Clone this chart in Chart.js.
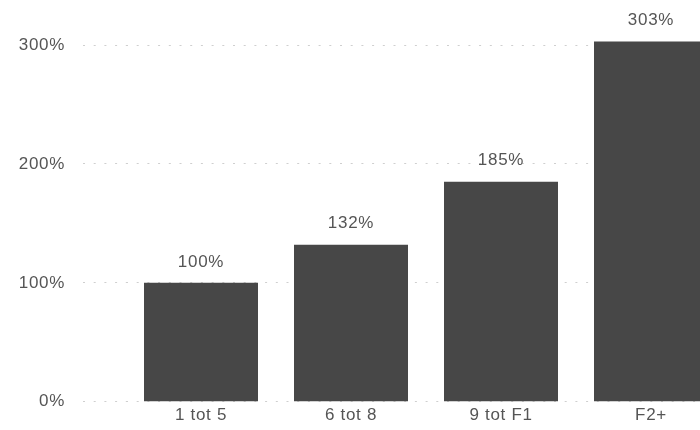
<!DOCTYPE html>
<html>
<head>
<meta charset="utf-8">
<script src="https://cdn.jsdelivr.net/npm/chart.js@4/dist/chart.umd.min.js"></script>
<style>
  html, body { margin: 0; padding: 0; background: #fff; overflow: hidden; width: 700px; height: 430px; }
  #wrap { width: 700px; height: 430px; overflow: hidden; position: relative; }
  #c { position: absolute; left: 0; top: 0; }
</style>
</head>
<body>
<div id="wrap"><canvas id="c" width="726" height="430" style="width:726px;height:430px"></canvas></div>
<script>
// Categories and relative values (percent of the first group)
const categories = ['1 tot 5', '6 tot 8', '9 tot F1', 'F2+'];
const values = [100, 132, 185, 303];
const yTicks = [0, 100, 200, 300];

const FONT = { family: '"Liberation Sans", Arial, sans-serif', size: 17 };
const TEXT = '#555555';
const BAR = '#474747';
const GRID = '#cfcfcf';
const DOTS = [2, 8.7];

// Slightly looser text tracking for all chart text
const tracking = {
  id: 'tracking',
  beforeDraw(chart) { chart.ctx.letterSpacing = '0.7px'; }
};

// Writes each bar's value above it
const valueLabels = {
  id: 'valueLabels',
  afterDatasetsDraw(chart) {
    const ctx = chart.ctx;
    const meta = chart.getDatasetMeta(0);
    ctx.save();
    ctx.font = `${FONT.size}px ${FONT.family}`;
    ctx.fillStyle = TEXT;
    ctx.textAlign = 'center';
    ctx.textBaseline = 'middle';
    meta.data.forEach((bar, i) => {
      ctx.fillText(values[i] + '%', bar.x, bar.y - 21);
    });
    ctx.restore();
  }
};

new Chart(document.getElementById('c'), {
  type: 'bar',
  data: {
    labels: categories,
    datasets: [{
      data: values,
      backgroundColor: BAR,
      borderWidth: 0,
      barPercentage: 0.76,
      categoryPercentage: 1,
      clip: false
    }]
  },
  options: {
    responsive: false,
    animation: false,
    layout: { padding: { top: 45, bottom: 0, left: 0, right: 0 } },
    plugins: { legend: { display: false }, tooltip: { enabled: false } },
    scales: {
      x: {
        afterFit(scale) { scale.height = 20; },
        grid: { display: false, drawTicks: false },
        border: { display: false },
        ticks: { color: TEXT, font: FONT, padding: 3 }
      },
      y: {
        min: 0,
        max: 300,
        afterBuildTicks(scale) {
          scale.ticks = yTicks.map(v => ({ value: v }));
        },
        afterFit(scale) { scale.width = 126; },
        border: { display: false, dash: DOTS },
        grid: {
          color: GRID,
          lineWidth: 1,
          tickColor: GRID,
          tickBorderDash: DOTS,
          tickLength: 43
        },
        ticks: {
          color: TEXT,
          font: FONT,
          padding: 18,
          callback: v => v + '%'
        }
      }
    }
  },
  plugins: [tracking, valueLabels]
});
</script>
</body>
</html>
